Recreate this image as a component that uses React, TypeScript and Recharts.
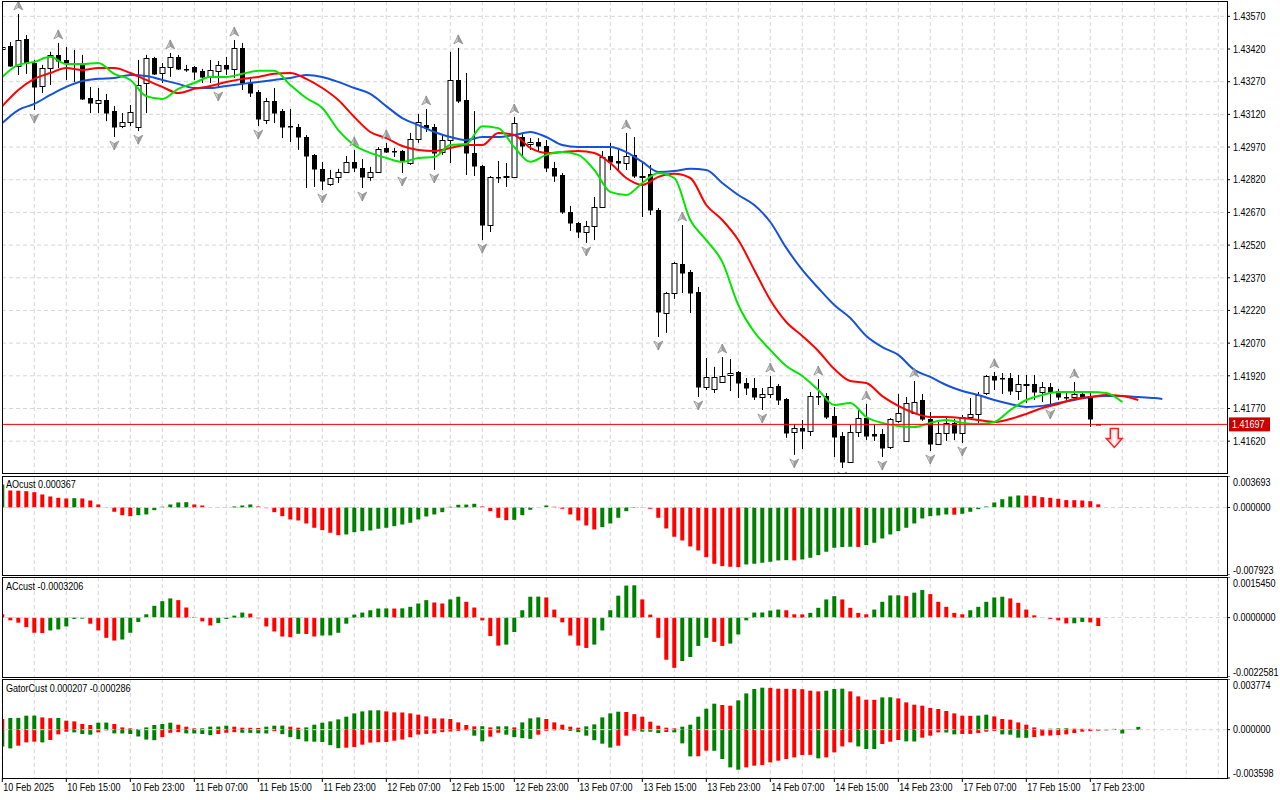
import React from "react";
import {
  ComposedChart,
  Bar,
  Line,
  Scatter,
  XAxis,
  YAxis,
  CartesianGrid,
  ReferenceLine,
  ReferenceDot,
  Cell
} from "recharts";

// H1 bars, bar 0 = 10 Feb 07:00 ... bar 137 = 18 Feb 00:00
const openPrices = [
  1.4342, 1.43433, 1.43342, 1.43466, 1.43356, 1.4325, 1.43333, 1.43393, 1.4337, 1.43356,
  1.43347, 1.43195, 1.43172, 1.43186, 1.43135, 1.43066, 1.43085, 1.43062, 1.43264, 1.43379,
  1.4331, 1.43338, 1.43384, 1.43329, 1.43338, 1.4332, 1.43292, 1.4332, 1.43347, 1.43329,
  1.43425, 1.43264, 1.43223, 1.43094, 1.43181, 1.43135, 1.43066, 1.43062, 1.43016, 1.42934,
  1.4287, 1.42801, 1.42833, 1.42856, 1.42902, 1.42874, 1.42833, 1.42856, 1.42966, 1.42952,
  1.42952, 1.42897, 1.43007, 1.43071, 1.43062, 1.42947, 1.43002, 1.43278, 1.43186, 1.42943,
  1.42883, 1.42612, 1.42833, 1.42837, 1.42833, 1.43016, 1.42984, 1.42993, 1.42975, 1.42874,
  1.42842, 1.42672, 1.42621, 1.4258, 1.42608, 1.42695, 1.42929, 1.42906, 1.42897, 1.42934,
  1.42837, 1.42847, 1.42681, 1.42208, 1.423, 1.42434, 1.42397, 1.42305, 1.41869, 1.4186,
  1.41892, 1.41924, 1.41938, 1.41887, 1.41864, 1.41823, 1.41837, 1.41873, 1.41814, 1.41662,
  1.4168, 1.41667, 1.41827, 1.41827, 1.41735, 1.41644, 1.41524, 1.41662, 1.41726, 1.41653,
  1.41653, 1.41593, 1.41713, 1.41621, 1.41749, 1.41809, 1.41722, 1.41607, 1.41658, 1.41704,
  1.41658, 1.41731, 1.41745, 1.41841, 1.41919, 1.4191, 1.4191, 1.4185, 1.41882, 1.41882,
  1.41846, 1.41869, 1.4185, 1.41823, 1.41823, 1.41837, 1.41818, 1.41699
];
const highPrices = [
  1.43443, 1.43452, 1.43581, 1.43484, 1.4337, 1.43347, 1.43407, 1.43448, 1.43429, 1.43416,
  1.43393, 1.43246, 1.43241, 1.43214, 1.43158, 1.43126, 1.43163, 1.4337, 1.43393, 1.43384,
  1.43356, 1.43402, 1.43393, 1.43347, 1.43342, 1.43329, 1.4337, 1.43365, 1.43384, 1.43461,
  1.43448, 1.43292, 1.43232, 1.43195, 1.43241, 1.43145, 1.43145, 1.43076, 1.43025, 1.42938,
  1.42902, 1.42865, 1.4287, 1.42929, 1.42957, 1.42915, 1.42879, 1.4297, 1.42989, 1.42966,
  1.42957, 1.43035, 1.43122, 1.43145, 1.43076, 1.43025, 1.43407, 1.43425, 1.4331, 1.43135,
  1.42888, 1.42837, 1.42906, 1.42897, 1.43108, 1.43035, 1.43011, 1.43011, 1.43002, 1.42902,
  1.42851, 1.427, 1.42626, 1.42631, 1.42741, 1.42952, 1.42989, 1.42961, 1.43035, 1.43016,
  1.42897, 1.42888, 1.4269, 1.42305, 1.42443, 1.42612, 1.42406, 1.42328, 1.42002, 1.41961,
  1.42006, 1.41997, 1.41942, 1.4191, 1.4191, 1.41864, 1.41919, 1.41882, 1.41818, 1.41699,
  1.41717, 1.41846, 1.41905, 1.41841, 1.41777, 1.41662, 1.41694, 1.41772, 1.41791, 1.41694,
  1.41676, 1.41726, 1.41837, 1.41823, 1.41896, 1.41837, 1.41754, 1.41708, 1.41726, 1.41722,
  1.4174, 1.41818, 1.41846, 1.41924, 1.41938, 1.41933, 1.41933, 1.41924, 1.41924, 1.41924,
  1.41892, 1.41887, 1.4186, 1.41846, 1.41892, 1.41846, 1.41846, 1.41699
];
const lowPrices = [
  1.43402, 1.43338, 1.43301, 1.43306, 1.4314, 1.43218, 1.43255, 1.43333, 1.43278, 1.43269,
  1.43186, 1.43126, 1.43126, 1.43089, 1.43016, 1.43057, 1.43066, 1.43043, 1.43126, 1.43301,
  1.43264, 1.43292, 1.43324, 1.43315, 1.43278, 1.43264, 1.43264, 1.43241, 1.43301, 1.43287,
  1.43232, 1.432, 1.43066, 1.43076, 1.4308, 1.43011, 1.42993, 1.42957, 1.42782, 1.42787,
  1.42773, 1.42792, 1.42805, 1.42851, 1.42856, 1.42782, 1.42815, 1.42851, 1.42943, 1.42924,
  1.42851, 1.42888, 1.42989, 1.43039, 1.42865, 1.42934, 1.42897, 1.43172, 1.42842, 1.42837,
  1.42543, 1.4258, 1.42805, 1.42787, 1.42828, 1.42924, 1.42957, 1.42947, 1.42856, 1.4281,
  1.42663, 1.42585, 1.42552, 1.4253, 1.42543, 1.4269, 1.42865, 1.4286, 1.42865, 1.42828,
  1.42649, 1.42658, 1.42098, 1.42117, 1.42273, 1.423, 1.42208, 1.41823, 1.41855, 1.41841,
  1.41887, 1.4185, 1.41818, 1.41832, 1.41809, 1.41763, 1.41818, 1.41786, 1.41635, 1.41557,
  1.41584, 1.41644, 1.41786, 1.41722, 1.41547, 1.41497, 1.4152, 1.41639, 1.41625, 1.41621,
  1.41547, 1.41584, 1.41704, 1.41616, 1.41745, 1.41713, 1.41575, 1.41602, 1.41621, 1.41625,
  1.41612, 1.41726, 1.41704, 1.41832, 1.41855, 1.41837, 1.41832, 1.41809, 1.41795, 1.41809,
  1.418, 1.41782, 1.41809, 1.41805, 1.41814, 1.41814, 1.41685, 1.41695
];
const closePrices = [
  1.43429, 1.43342, 1.43461, 1.43356, 1.43246, 1.43333, 1.43393, 1.43365, 1.43356, 1.43354,
  1.43191, 1.43172, 1.43186, 1.43126, 1.43062, 1.43085, 1.43131, 1.43255, 1.43379, 1.43306,
  1.43338, 1.43384, 1.43329, 1.43328, 1.43315, 1.43292, 1.43324, 1.43347, 1.43329, 1.43425,
  1.43264, 1.43218, 1.43099, 1.43181, 1.43126, 1.43062, 1.43062, 1.43016, 1.42929, 1.4287,
  1.42815, 1.42828, 1.42856, 1.42902, 1.42874, 1.42833, 1.42856, 1.42961, 1.42947, 1.42951,
  1.42906, 1.43007, 1.43085, 1.43057, 1.42943, 1.43002, 1.43278, 1.43181, 1.42943, 1.42883,
  1.42612, 1.42833, 1.42828, 1.42838, 1.4308, 1.42975, 1.42993, 1.42975, 1.42874, 1.42837,
  1.42672, 1.42621, 1.4258, 1.42608, 1.42695, 1.42924, 1.42902, 1.42897, 1.42929, 1.42837,
  1.42838, 1.42681, 1.42213, 1.423, 1.42438, 1.42392, 1.423, 1.41869, 1.41915, 1.41915,
  1.41919, 1.41933, 1.41887, 1.41864, 1.41823, 1.41837, 1.41869, 1.41809, 1.41658, 1.4168,
  1.41667, 1.41827, 1.41823, 1.41731, 1.41639, 1.41524, 1.41662, 1.41726, 1.41644, 1.41644,
  1.41589, 1.41722, 1.41749, 1.41795, 1.418, 1.41722, 1.41607, 1.41658, 1.41704, 1.41658,
  1.41731, 1.41745, 1.41832, 1.41919, 1.41901, 1.41906, 1.4185, 1.41882, 1.41883, 1.41846,
  1.41869, 1.41846, 1.41823, 1.41822, 1.41837, 1.41823, 1.41722, 1.41697
];

const upFractalBars = [2, 7, 21, 29, 44, 48, 53, 57, 64, 78, 85, 90, 96, 102, 108, 114, 124, 134];
const downFractalBars = [4, 14, 17, 27, 32, 40, 45, 50, 54, 60, 73, 82, 87, 95, 99, 105, 110, 116, 120, 131];

// alligator, read every second bar (jaw runs 8 bars ahead, teeth 5, lips 3)
const jawValues = [
  1.4308, 1.4314, 1.43168, 1.43209, 1.43246, 1.43273, 1.43283, 1.43287, 1.43301, 1.43296,
  1.43278, 1.4326, 1.43241, 1.43241, 1.4325, 1.4326, 1.43269, 1.43278, 1.43287, 1.43301,
  1.43292, 1.43269, 1.43241, 1.43214, 1.43158, 1.43103, 1.43071, 1.43039, 1.43016, 1.43002,
  1.43016, 1.43016, 1.43025, 1.43039, 1.43016, 1.42979, 1.4297, 1.4297, 1.4297, 1.42947,
  1.42902, 1.42856, 1.4286, 1.4287, 1.42865, 1.42805, 1.4275, 1.42704, 1.42626, 1.42507,
  1.42406, 1.42323, 1.42245, 1.42185, 1.42103, 1.42052, 1.42016, 1.41947, 1.41915, 1.41878,
  1.4185, 1.41832, 1.41809, 1.41791, 1.41777, 1.41782, 1.41795, 1.41809, 1.41823, 1.41827,
  1.41827, 1.41823, 1.41818, 1.41814
];
const teethValues = [
  1.43158, 1.43232, 1.43283, 1.4331, 1.43333, 1.43324, 1.43333, 1.43333, 1.4331, 1.43278,
  1.43246, 1.43218, 1.43237, 1.4325, 1.43269, 1.43283, 1.43292, 1.43306, 1.4331, 1.43283,
  1.43241, 1.43186, 1.43108, 1.43039, 1.43011, 1.42975, 1.42957, 1.42952, 1.42966, 1.42979,
  1.42979, 1.43035, 1.43025, 1.42966, 1.42943, 1.42947, 1.42952, 1.42943, 1.42897, 1.42828,
  1.42796, 1.42833, 1.42847, 1.42828, 1.42704, 1.42635, 1.42543, 1.42406, 1.42268, 1.42167,
  1.42103, 1.42034, 1.41951, 1.41896, 1.41887, 1.41827, 1.41782, 1.41749, 1.41731, 1.41731,
  1.41726, 1.41717, 1.41708, 1.41722, 1.41745, 1.41772, 1.41791, 1.41814, 1.41823, 1.41832,
  1.41827, 1.41809
];
const lipsValues = [
  1.43292, 1.43347, 1.43361, 1.43384, 1.43351, 1.43351, 1.43356, 1.43306, 1.43278, 1.43204,
  1.43191, 1.43237, 1.43264, 1.43292, 1.43292, 1.43306, 1.4332, 1.4332, 1.43255, 1.43195,
  1.43149, 1.43048, 1.42979, 1.42943, 1.4292, 1.42902, 1.4292, 1.42924, 1.42979, 1.42984,
  1.43066, 1.43057, 1.4297, 1.42902, 1.42934, 1.42947, 1.42934, 1.42865, 1.42764, 1.4275,
  1.42805, 1.42851, 1.42828, 1.42635, 1.42543, 1.42443, 1.42245, 1.42121, 1.42039, 1.41965,
  1.41919, 1.41855, 1.41786, 1.41795, 1.41731, 1.41704, 1.4169, 1.41685, 1.41704, 1.41717,
  1.41704, 1.41699, 1.41708, 1.41763, 1.41809, 1.41832, 1.41846, 1.41846, 1.41846, 1.41841,
  1.418
];

const aoValues = [
  0.002698, 0.001994, 0.001971, 0.001912, 0.001795, 0.001525, 0.00129, 0.001138, 0.001056, 0.001091,
  0.001056, 0.000821, 0.000352, 0.000035, -0.000504, -0.000903, -0.001021, -0.000903, -0.000821, -0.000317,
  0.000082, 0.000352, 0.000587, 0.000622, 0.000352, 0.000235, 0.000035, 0.000023, 0.000012, 0.000117,
  0.000235, 0.000352, 0.000117, -0.000082, -0.000551, -0.001021, -0.001408, -0.001525, -0.001877, -0.002381,
  -0.002663, -0.002968, -0.003249, -0.003167, -0.002897, -0.00278, -0.002698, -0.002498, -0.002381, -0.002194,
  -0.001994, -0.001795, -0.001408, -0.001056, -0.000821, -0.000551, 0.000082, 0.000317, 0.00034, 0.000434,
  0.000117, -0.000434, -0.001208, -0.00149, -0.001455, -0.000903, -0.00027, -0.000023, 0.000235, 0.000082,
  -0.000152, -0.000821, -0.001525, -0.002111, -0.002581, -0.002311, -0.001877, -0.001208, -0.000434, 0.000059,
  0.000035, -0.000152, -0.001208, -0.002463, -0.003437, -0.003871, -0.004575, -0.005044, -0.00583, -0.006604,
  -0.006886, -0.006956, -0.006991, -0.006686, -0.006604, -0.006487, -0.006369, -0.006217, -0.006182, -0.006217,
  -0.0061, -0.0059, -0.005595, -0.005196, -0.004727, -0.004645, -0.00461, -0.004633, -0.004422, -0.004141,
  -0.003636, -0.003167, -0.00278, -0.002381, -0.001877, -0.00129, -0.001021, -0.000938, -0.000821, -0.000845,
  -0.000739, -0.000504, -0.000199, 0.000117, 0.000587, 0.000974, 0.00129, 0.001408, 0.001396, 0.001372,
  0.001208, 0.001138, 0.001021, 0.000868, 0.000856, 0.000821, 0.000739, 0.000367
];

const acValues = [
  0.000127, -0.000104, -0.000192, -0.000357, -0.000576, -0.000584, -0.000488, -0.00045, -0.000334, -0.00005,
  -0.000038, -0.000231, -0.000488, -0.000768, -0.000872, -0.000834, -0.000576, -0.000165, 0.000127, 0.00045,
  0.000626, 0.00073, 0.000665, 0.000384, 0.000027, -0.000142, -0.000296, -0.000204, -0.00005, 0.000077,
  0.000192, 0.000154, -0.000027, -0.000334, -0.000526, -0.000718, -0.000742, -0.000615, -0.000622, -0.000718,
  -0.00068, -0.000676, -0.000576, -0.000231, 0.000115, 0.000192, 0.00028, 0.000346, 0.00035, 0.000346,
  0.000353, 0.000411, 0.000538, 0.000665, 0.000576, 0.000538, 0.000692, 0.000795, 0.000603, 0.000384,
  -0.000104, -0.000703, -0.001064, -0.001026, -0.000549, 0.00028, 0.000795, 0.000799, 0.000768, 0.000307,
  -0.000181, -0.00068, -0.001064, -0.001153, -0.001026, -0.000488, 0.00028, 0.000834, 0.001218, 0.001229,
  0.000692, 0.000115, -0.000768, -0.001602, -0.001909, -0.001652, -0.001498, -0.001076, -0.000768, -0.000922,
  -0.001076, -0.000987, -0.000642, -0.000104, 0.000192, 0.000196, 0.000269, 0.000307, 0.00028, 0.000127,
  0.000123, 0.000181, 0.000373, 0.000692, 0.000818, 0.000692, 0.000373, 0.000181, 0.000127, 0.000307,
  0.000603, 0.000845, 0.000849, 0.000818, 0.000949, 0.001049, 0.000895, 0.000603, 0.000411, 0.000181,
  0.000127, 0.00028, 0.000411, 0.000603, 0.000768, 0.000795, 0.00073, 0.000565, 0.000307, 0.000088,
  -0.000012, -0.00005, -0.000104, -0.000219, -0.000215, -0.000165, -0.000181, -0.000321
];

const gatorUpper = [
  0.000797, 0.000871, 0.000879, 0.001043, 0.00105, 0.000916, 0.000856, 0.000871, 0.00067, 0.000618,
  0.000424, 0.00035, 0.000521, 0.000529, 0.000424, 0.000171, 0.000097, 0.000052, 0.000171, 0.00035,
  0.000424, 0.000521, 0.000372, 0.000223, 0.000097, 0.000104, 0.000223, 0.000231, 0.000298, 0.000223,
  0.000149, 0.000141, 0.000127, 0.000223, 0.000298, 0.000305, 0.000223, 0.000149, 0.000171, 0.000372,
  0.000521, 0.000618, 0.000767, 0.000968, 0.001214, 0.001363, 0.001437, 0.001445, 0.001363, 0.001288,
  0.001281, 0.001214, 0.001117, 0.00099, 0.000842, 0.000834, 0.000797, 0.000544, 0.00035, 0.000246,
  0.000261, 0.000171, 0.000246, 0.000253, 0.000171, 0.000544, 0.000842, 0.000916, 0.000797, 0.000544,
  0.000372, 0.000223, 0.000149, 0.000246, 0.000395, 0.000916, 0.001214, 0.00134, 0.001318, 0.001154,
  0.000968, 0.000596, 0.000298, 0.000149, 0.000097, 0.000223, 0.000372, 0.000968, 0.001564, 0.001936,
  0.001839, 0.001787, 0.002182, 0.002703, 0.003031, 0.003128, 0.003113, 0.003053, 0.003046, 0.003038,
  0.003016, 0.002904, 0.002852, 0.002904, 0.003031, 0.003053, 0.002852, 0.00248, 0.002234, 0.002227,
  0.002405, 0.002413, 0.002331, 0.002033, 0.001862, 0.001787, 0.001616, 0.001542, 0.001393, 0.001214,
  0.001043, 0.001035, 0.00105, 0.001117, 0.00099, 0.000797, 0.000745, 0.000544, 0.000372, 0.000171,
  0.000052, 0.000074, 0.000097, 0.000104, 0.000074, 0.000067, 0.00006, 0.000052, 0.000037, 0.00006,
  0.00003, 0.000022, 0.000207
];
const gatorLower = [
  -0.001244, -0.001393, -0.001192, -0.000946, -0.000894, -0.000946, -0.000767, -0.00035, -0.000149, -0.000201,
  -0.00032, -0.000372, -0.000201, -0.000052, -0.000276, -0.000283, -0.00032, -0.000506, -0.000737, -0.000782,
  -0.000551, -0.000231, -0.000186, -0.000276, -0.000283, -0.00032, -0.00041, -0.00032, -0.000231, -0.000186,
  -0.000231, -0.000238, -0.000276, -0.000283, -0.000112, -0.000335, -0.000551, -0.000707, -0.000871, -0.000894,
  -0.000916, -0.001154, -0.001378, -0.00134, -0.001288, -0.001117, -0.000961, -0.000931, -0.000916, -0.000819,
  -0.000737, -0.000559, -0.000365, -0.000313, -0.000276, -0.000186, -0.000134, -0.000089, -0.000045, -0.000447,
  -0.000871, -0.000521, -0.000231, -0.000372, -0.000551, -0.000633, -0.000685, -0.000372, -0.000089, -0.000045,
  -0.000022, -0.000089, -0.000186, -0.000447, -0.000782, -0.001043, -0.001333, -0.001192, -0.000447, -0.000074,
  -0.000149, -0.000156, -0.000246, -0.000171, -0.000201, -0.00102, -0.001988, -0.001981, -0.001564, -0.001571,
  -0.002182, -0.002807, -0.002979, -0.002807, -0.002681, -0.002629, -0.002435, -0.002309, -0.002182, -0.002063,
  -0.001884, -0.001877, -0.002137, -0.002063, -0.00169, -0.001244, -0.000946, -0.001244, -0.001437, -0.001445,
  -0.001065, -0.000894, -0.000767, -0.000871, -0.000879, -0.000596, -0.000447, -0.000201, -0.000209, -0.00035,
  -0.00032, -0.000313, -0.000246, -0.000149, -0.000097, -0.00035, -0.000372, -0.000596, -0.000603, -0.000544,
  -0.000447, -0.000439, -0.000395, -0.00035, -0.000246, -0.000149, -0.000097, -0.000074, -0.000052, -0.000022,
  -0.000286
];

const priceTicks = [
  1.4357, 1.4342, 1.4327, 1.4312, 1.4297, 1.4282, 1.4267, 1.4252, 1.4237, 1.4222, 1.4207, 1.4192, 1.4177, 1.4162
];
const lastPrice = 1.41697;
const sellSignalBar = 139;

const aoDomain = [-0.007923, 0.003693];
const acDomain = [-0.0022581, 0.001545];
const gatorDomain = [-0.003598, 0.003774];

const timeLabelBars = [0, 8, 16, 24, 32, 40, 48, 56, 64, 72, 80, 88, 96, 104, 112, 120, 128, 136];
const timeLabels = [
  "10 Feb 2025", "10 Feb 15:00", "10 Feb 23:00", "11 Feb 07:00", "11 Feb 15:00", "11 Feb 23:00",
  "12 Feb 07:00", "12 Feb 15:00", "12 Feb 23:00", "13 Feb 07:00", "13 Feb 15:00", "13 Feb 23:00",
  "14 Feb 07:00", "14 Feb 15:00", "14 Feb 23:00", "17 Feb 07:00", "17 Feb 15:00", "17 Feb 23:00"
];

// layout
const W = 1280;
const AXIS_W = 53;
const LEFT = 2;
const X_DOMAIN = [-0.0375, 153.09];
const PRICE_DOMAIN = [1.414739, 1.436404];
const FONT = "'Liberation Sans', Arial, sans-serif";
const FS = 10.5;
const SX = 0.86; // terminal font is narrower than Liberation Sans
const GREEN = "#008000";
const RED = "#ff0000";
const GRID = "#d6d6d6";

const gridBars = Array.from({ length: 39 }, (_, i) => i * 4);
const everySecond = (n: number) => Array.from({ length: n }, (_, i) => i * 2);
const jawBars = [...everySecond(73), 145];
const teethBars = everySecond(72);
const lipsBars = everySecond(71);

const candleRows = openPrices.map((open, bar) => ({
  bar,
  open,
  high: highPrices[bar],
  low: lowPrices[bar],
  close: closePrices[bar]
}));
const upRows = upFractalBars.map((bar) => ({ bar, price: highPrices[bar] }));
const downRows = downFractalBars.map((bar) => ({ bar, price: lowPrices[bar] }));
const jawRows = jawBars.map((bar, i) => ({ bar, v: jawValues[i] }));
const teethRows = teethBars.map((bar, i) => ({ bar, v: teethValues[i] }));
const lipsRows = lipsBars.map((bar, i) => ({ bar, v: lipsValues[i] }));
const aoRows = aoValues.map((v, bar) => ({ bar, v }));
const acRows = acValues.map((v, bar) => ({ bar, v }));
const gatorRows = gatorUpper.map((up, bar) => ({
  bar,
  up,
  down: bar < gatorLower.length ? gatorLower[bar] : null
}));

// bar colour = rising / falling versus the previous bar
const risingColors = (vals: number[], first: string, useAbs = false) =>
  vals.map((v, i) => {
    if (i === 0) return first;
    const a = useAbs ? Math.abs(v) : v;
    const b = useAbs ? Math.abs(vals[i - 1]) : vals[i - 1];
    return a > b ? GREEN : RED;
  });
const aoColors = risingColors(aoValues, GREEN);
const acColors = risingColors(acValues, RED);
const upColors = risingColors(gatorUpper, RED);
const downColors = risingColors(gatorLower, GREEN, true);

const SvgText = ({ x, y, dy = "0.355em", fill = "#000", children }: any) => (
  <text
    transform={`translate(${x},${y}) scale(${SX},1)`}
    x={0}
    y={0}
    dy={dy}
    fontSize={FS}
    fontFamily={FONT}
    fill={fill}
    textAnchor="start"
  >
    {children}
  </text>
);

const Candle = (props: any) => {
  const { x, y, width, height, payload } = props;
  if (!payload || x == null) return null;
  const { open, high, low, close } = payload;
  const cx = Math.round(x + width / 2) + 0.5;
  const top = Math.min(y, y + height);
  const h = Math.abs(height);
  const span = high - low || 1e-9;
  const py = (v: number) => top + ((high - v) / span) * h;
  const yo = py(open);
  const yc = py(close);
  const bull = close > open;
  const bTop = Math.round(Math.min(yo, yc)) + 0.5;
  const bH = Math.max(Math.round(Math.abs(yc - yo)), 1);
  return (
    <g>
      <line x1={cx} x2={cx} y1={top} y2={top + h} stroke="#000" strokeWidth={1} />
      <rect
        x={cx - 2.5}
        y={bull ? bTop : bTop - 0.5}
        width={5}
        height={bull ? bH : bH + 0.5}
        fill={bull ? "#fff" : "#000"}
        stroke={bull ? "#000" : "none"}
        strokeWidth={1}
      />
    </g>
  );
};

const FractalUp = (props: any) => {
  const { cx, cy } = props;
  const t = cy - 13;
  const b = cy - 4;
  return (
    <g>
      <path d={`M${cx},${t} L${cx - 4.5},${b} L${cx},${b - 2.5} Z`} fill="#cfcfcf" stroke="#8a8a8a" strokeWidth={0.7} />
      <path d={`M${cx},${t} L${cx + 4.5},${b} L${cx},${b - 2.5} Z`} fill="#a0a0a0" stroke="#8a8a8a" strokeWidth={0.7} />
    </g>
  );
};

const FractalDown = (props: any) => {
  const { cx, cy } = props;
  const t = cy + 4;
  const b = cy + 13;
  return (
    <g>
      <path d={`M${cx},${b} L${cx - 4.5},${t} L${cx},${t + 2.5} Z`} fill="#cfcfcf" stroke="#8a8a8a" strokeWidth={0.7} />
      <path d={`M${cx},${b} L${cx + 4.5},${t} L${cx},${t + 2.5} Z`} fill="#a0a0a0" stroke="#8a8a8a" strokeWidth={0.7} />
    </g>
  );
};

const SellArrow = (props: any) => {
  const { cx, cy } = props;
  const t = cy + 4;
  const s = cy + 14;
  const b = cy + 23;
  return (
    <g>
      <defs>
        <linearGradient id="sellFill" x1="0" x2="1" y1="0" y2="0">
          <stop offset="0" stopColor="#ff9a9a" />
          <stop offset="0.5" stopColor="#ffffff" />
          <stop offset="1" stopColor="#ff9a9a" />
        </linearGradient>
      </defs>
      <path
        d={`M${cx - 4},${t} L${cx + 4},${t} L${cx + 4},${s} L${cx + 8},${s} L${cx},${b} L${cx - 8},${s} L${cx - 4},${s} Z`}
        fill="url(#sellFill)"
        stroke="#ff2020"
        strokeWidth={1.5}
      />
    </g>
  );
};

const PriceTag = (props: any) => {
  const vb = props.viewBox || {};
  const x = vb.x + vb.width + 2;
  const y = vb.y;
  return (
    <g>
      <rect x={x} y={y - 7} width={41} height={14} fill="#c80000" />
      <SvgText x={x + 3} y={y} fill="#fff">
        {lastPrice.toFixed(5)}
      </SvgText>
    </g>
  );
};

const PriceTick = (props: any) => {
  const { x, y, payload } = props;
  return (
    <SvgText x={x} y={y}>
      {payload.value.toFixed(5)}
    </SvgText>
  );
};

const PaneTick = (props: any) => {
  const { x, y, payload, digits, domain } = props;
  const v = payload.value;
  const dy = v === domain[1] ? 6 : v === domain[0] ? -5 : 0;
  return (
    <SvgText x={x} y={y + dy}>
      {v.toFixed(digits)}
    </SvgText>
  );
};

const TimeTick = (props: any) => {
  const { x, y, payload } = props;
  const label = timeLabels[timeLabelBars.indexOf(payload.value)];
  return (
    <SvgText x={x + 1} y={y} dy="0.71em">
      {label}
    </SvgText>
  );
};

const Frame = ({ top, height }: { top: number; height: number }) => (
  <div
    style={{
      position: "absolute",
      left: LEFT,
      top,
      width: 1227 - LEFT + 1,
      height,
      border: "1px solid #000",
      boxSizing: "border-box",
      pointerEvents: "none"
    }}
  />
);

const PaneTitle = ({ top, text }: { top: number; text: string }) => (
  <div
    style={{
      position: "absolute",
      left: 6,
      top,
      fontFamily: FONT,
      fontSize: FS,
      lineHeight: "14px",
      color: "#000",
      whiteSpace: "nowrap",
      transform: `scaleX(${SX})`,
      transformOrigin: "0 0"
    }}
  >
    {text}
  </div>
);

const xAxisHidden = (
  <XAxis dataKey="bar" type="number" domain={X_DOMAIN} allowDataOverflow hide ticks={gridBars} />
);

const paneYAxis = (domain: number[], digits: number) => (
  <YAxis
    orientation="right"
    type="number"
    width={AXIS_W}
    domain={domain}
    allowDataOverflow
    ticks={[domain[1], 0, domain[0]]}
    interval={0}
    tickSize={3}
    tickMargin={3}
    tickLine={{ stroke: "#000" }}
    axisLine={false}
    tick={<PaneTick digits={digits} domain={domain} />}
  />
);

export default function App() {
  return (
    <div style={{ position: "absolute", left: 0, top: 0, width: W, height: 800, background: "#fff", overflow: "hidden" }}>
      {/* price pane */}
      <div style={{ position: "absolute", left: 0, top: 1 }}>
        <ComposedChart width={W} height={472} data={candleRows} margin={{ top: 0, right: 0, bottom: 0, left: LEFT }}>
          <CartesianGrid stroke={GRID} strokeDasharray="4 3" verticalValues={gridBars} horizontalValues={priceTicks} />
          {xAxisHidden}
          <YAxis
            orientation="right"
            type="number"
            width={AXIS_W}
            domain={PRICE_DOMAIN}
            allowDataOverflow
            ticks={priceTicks}
            interval={0}
            tickSize={3}
            tickMargin={3}
            tickLine={{ stroke: "#000" }}
            axisLine={false}
            tick={<PriceTick />}
          />
          <Bar dataKey={(d: any) => [d.low, d.high]} barSize={6} shape={<Candle />} isAnimationActive={false} />
          <Line data={jawRows} dataKey="v" type="monotone" stroke="#1552d8" strokeWidth={2} dot={false} isAnimationActive={false} />
          <Line data={teethRows} dataKey="v" type="monotone" stroke="#ff0000" strokeWidth={2} dot={false} isAnimationActive={false} />
          <Line data={lipsRows} dataKey="v" type="monotone" stroke="#00e600" strokeWidth={2} dot={false} isAnimationActive={false} />
          <Scatter data={upRows} dataKey="price" shape={<FractalUp />} isAnimationActive={false} />
          <Scatter data={downRows} dataKey="price" shape={<FractalDown />} isAnimationActive={false} />
          <ReferenceLine y={lastPrice} stroke="#ff0000" strokeWidth={1} label={<PriceTag />} />
          <ReferenceDot x={sellSignalBar} y={lastPrice} r={0} shape={<SellArrow />} />
        </ComposedChart>
      </div>

      {/* AO pane */}
      <div style={{ position: "absolute", left: 0, top: 476 }}>
        <ComposedChart width={W} height={99} data={aoRows} margin={{ top: 0, right: 0, bottom: 0, left: LEFT }}>
          <CartesianGrid stroke={GRID} strokeDasharray="4 3" horizontal={false} verticalValues={gridBars} />
          {xAxisHidden}
          {paneYAxis(aoDomain, 6)}
          <ReferenceLine y={0} stroke={GRID} strokeDasharray="4 3" />
          <Bar dataKey="v" barSize={4} isAnimationActive={false}>
            {aoRows.map((r, i) => (
              <Cell key={i} fill={aoColors[i]} />
            ))}
          </Bar>
        </ComposedChart>
      </div>

      {/* AC pane */}
      <div style={{ position: "absolute", left: 0, top: 577 }}>
        <ComposedChart width={W} height={100} data={acRows} margin={{ top: 0, right: 0, bottom: 0, left: LEFT }}>
          <CartesianGrid stroke={GRID} strokeDasharray="4 3" horizontal={false} verticalValues={gridBars} />
          {xAxisHidden}
          {paneYAxis(acDomain, 7)}
          <ReferenceLine y={0} stroke={GRID} strokeDasharray="4 3" />
          <Bar dataKey="v" barSize={4} isAnimationActive={false}>
            {acRows.map((r, i) => (
              <Cell key={i} fill={acColors[i]} />
            ))}
          </Bar>
        </ComposedChart>
      </div>

      {/* Gator pane + time axis */}
      <div style={{ position: "absolute", left: 0, top: 679 }}>
        <ComposedChart
          width={W}
          height={121}
          data={gatorRows}
          stackOffset="sign"
          margin={{ top: 0, right: 0, bottom: 0, left: LEFT }}
        >
          <CartesianGrid stroke={GRID} strokeDasharray="4 3" horizontal={false} verticalValues={gridBars} />
          <XAxis
            dataKey="bar"
            type="number"
            domain={X_DOMAIN}
            allowDataOverflow
            ticks={timeLabelBars}
            interval={0}
            height={22}
            tickSize={4}
            tickMargin={2}
            tickLine={{ stroke: "#000" }}
            axisLine={false}
            tick={<TimeTick />}
          />
          {paneYAxis(gatorDomain, 6)}
          <ReferenceLine y={0} stroke={GRID} strokeDasharray="4 3" />
          <Bar dataKey="up" stackId="g" barSize={4} isAnimationActive={false}>
            {gatorRows.map((r, i) => (
              <Cell key={i} fill={upColors[i]} />
            ))}
          </Bar>
          <Bar dataKey="down" stackId="g" barSize={4} isAnimationActive={false}>
            {gatorRows.map((r, i) => (
              <Cell key={i} fill={i < downColors.length ? downColors[i] : GREEN} />
            ))}
          </Bar>
        </ComposedChart>
      </div>

      <Frame top={1} height={473} />
      <Frame top={476} height={100} />
      <Frame top={577} height={101} />
      <Frame top={679} height={100} />

      <PaneTitle top={477} text="AOcust 0.000367" />
      <PaneTitle top={579} text="ACcust -0.0003206" />
      <PaneTitle top={681} text="GatorCust 0.000207 -0.000286" />
    </div>
  );
}
